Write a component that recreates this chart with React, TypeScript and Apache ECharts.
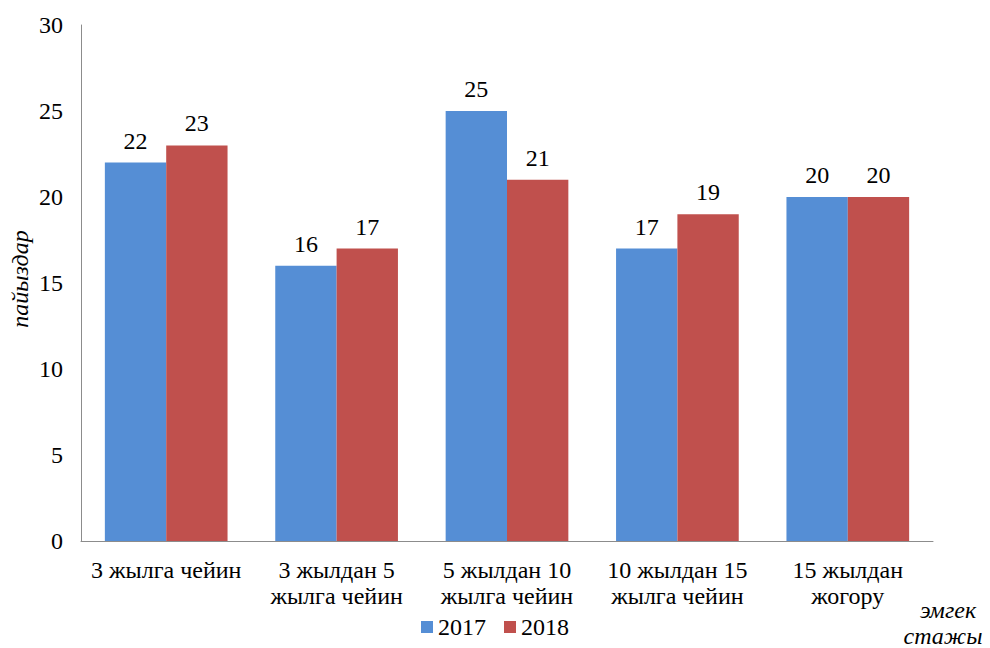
import React, { useEffect, useRef } from "react";
import * as echarts from "echarts";

const categories = [
  "3 жылга чейин",
  "3 жылдан 5\nжылга чейин",
  "5 жылдан 10\nжылга чейин",
  "10 жылдан 15\nжылга чейин",
  "15 жылдан\nжогору",
];
const values2017 = [22, 16, 25, 17, 20];
const values2018 = [23, 17, 21, 19, 20];
const seriesNames = ["2017", "2018"];
const yAxisTitle = "пайыздар";
const xAxisTitle = ["эмгек", "стажы"];

const FONT = "Times New Roman, Liberation Serif, DejaVu Serif, serif";
const FS = 24;

export default function App() {
  const ref = useRef<HTMLDivElement>(null);
  useEffect(() => {
    if (!ref.current) return;
    const chart = echarts.init(ref.current, null, { renderer: "svg" });
    const labelStyle = {
      show: true,
      position: "top" as const,
      color: "#000",
      fontFamily: FONT,
      fontSize: FS,
      distance: 10,
    };
    const italic = (text: string, x: number, y: number, rotation = 0) => ({
      type: "text",
      x,
      y,
      rotation,
      style: {
        text,
        fontFamily: FONT,
        fontSize: FS,
        fontStyle: "italic",
        fill: "#000",
        align: "center",
        verticalAlign: "middle",
      },
    });
    chart.setOption({
      animation: false,
      backgroundColor: "#fff",
      textStyle: { fontFamily: FONT },
      grid: { left: 81, right: 57, top: 25, bottom: 107, containLabel: false },
      legend: {
        bottom: 4,
        left: "center",
        itemWidth: 12,
        itemHeight: 12,
        itemGap: 18,
        icon: "rect",
        textStyle: { fontFamily: FONT, fontSize: FS, color: "#000" },
        data: seriesNames,
      },
      xAxis: {
        type: "category",
        data: categories,
        axisLine: { lineStyle: { color: "#8c8c8c", width: 1 } },
        axisTick: { show: false },
        axisLabel: {
          color: "#000",
          fontFamily: FONT,
          fontSize: FS,
          margin: 16,
          lineHeight: 26,
          interval: 0,
        },
      },
      yAxis: {
        type: "value",
        min: 0,
        max: 30,
        interval: 5,
        splitLine: { show: false },
        axisLine: { show: true, lineStyle: { color: "#8c8c8c", width: 1 } },
        axisTick: { show: false },
        axisLabel: { color: "#000", fontFamily: FONT, fontSize: FS, margin: 18 },
      },
      graphic: [
        italic(yAxisTitle, 20, 279, Math.PI / 2),
        italic(xAxisTitle[0], 948, 610),
        italic(xAxisTitle[1], 943, 636),
      ],
      series: [
        {
          name: seriesNames[0],
          type: "bar",
          data: values2017,
          barGap: "0%",
          barCategoryGap: "28%",
          itemStyle: { color: "#558ED5" },
          label: labelStyle,
        },
        {
          name: seriesNames[1],
          type: "bar",
          data: values2018,
          barGap: "0%",
          barCategoryGap: "28%",
          itemStyle: { color: "#C0504D" },
          label: labelStyle,
        },
      ],
    });
    return () => chart.dispose();
  }, []);
  return <div ref={ref} style={{ width: 990, height: 648, position: "absolute", left: 0, top: 0 }} />;
}
